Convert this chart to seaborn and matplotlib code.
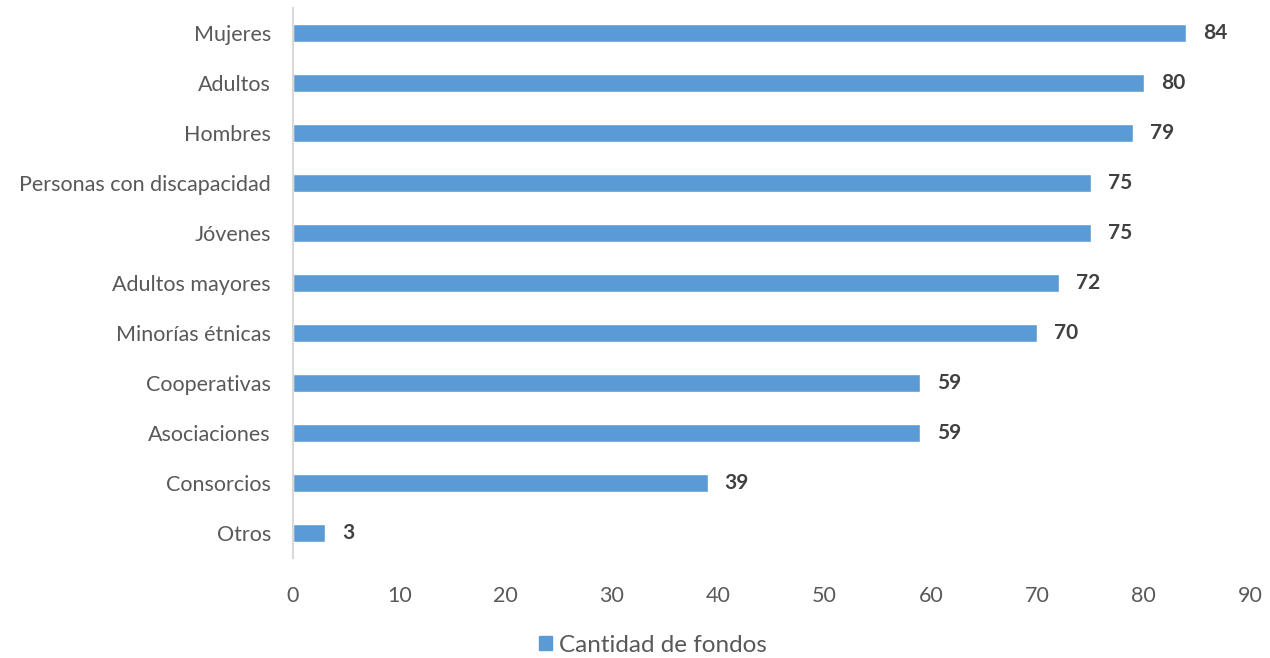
import matplotlib
matplotlib.use("Agg")
import matplotlib.pyplot as plt
import matplotlib.patches as mpatches
import seaborn as sns
import pandas as pd

categories = ["Mujeres", "Adultos", "Hombres", "Personas con discapacidad", "Jóvenes",
              "Adultos mayores", "Minorías étnicas", "Cooperativas", "Asociaciones",
              "Consorcios", "Otros"]
values = [84, 80, 79, 75, 75, 72, 70, 59, 59, 39, 3]
series_name = "Cantidad de fondos"
xticks = [0, 10, 20, 30, 40, 50, 60, 70, 80, 90]

df = pd.DataFrame({"cat": categories, "val": values, "series": series_name})

sns.set_theme(style="white")
plt.rcParams['font.family'] = ['Lato', 'DejaVu Sans']

fig = plt.figure(figsize=(12.7, 6.58), dpi=100)
ax = fig.add_axes([293/1270, 1-558/658, (1250-293)/1270, 550/658])

color = "#5B9BD5"
sns.barplot(data=df, y="cat", x="val", hue="series", palette=[color], orient="h",
            width=0.35, ax=ax, legend=False, saturation=1)

ax.set_xlim(0, 90)
ax.set_xticks(xticks)
ax.set_xlabel("")
ax.set_ylabel("")
ax.tick_params(axis="both", length=0, labelsize=15.5, colors="#595959")
ax.tick_params(axis="y", pad=16)
ax.tick_params(axis="x", pad=20)
for s in ["top", "right", "bottom"]:
    ax.spines[s].set_visible(False)
ax.spines["left"].set_color("#D9D9D9")
ax.spines["left"].set_linewidth(1.5)

for i, v in enumerate(values):
    ax.text(v + 1.6, i, str(v), va="center", ha="left", fontsize=15,
            fontweight="bold", color="#404040")

handle = mpatches.Patch(color=color, label=series_name)
fig.legend(handles=[handle], loc="center", bbox_to_anchor=(0.514, 1-645/658),
           frameon=False, fontsize=17.5, handlelength=0.55, handleheight=0.55,
           handletextpad=0.3, labelcolor="#595959")

fig.savefig("out.png", dpi=100)
